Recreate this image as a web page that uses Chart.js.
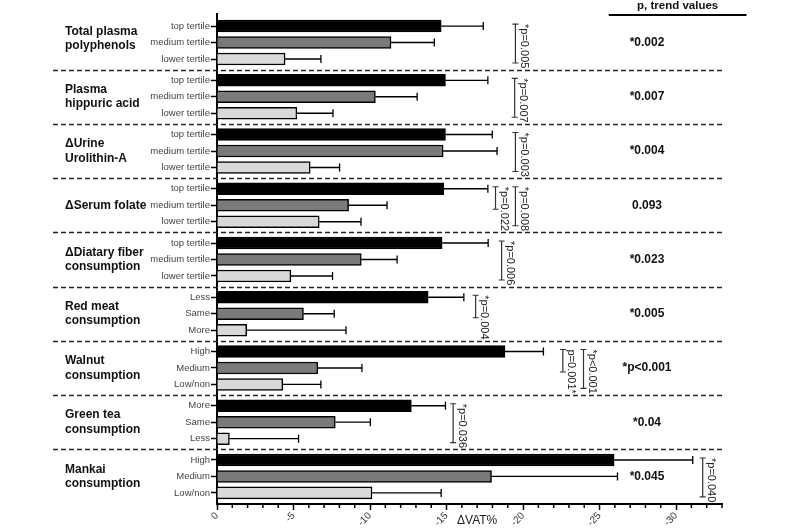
<!DOCTYPE html>
<html>
<head>
<meta charset="utf-8">
<script src="https://cdn.jsdelivr.net/npm/chart.js@4/dist/chart.umd.min.js"></script>
<style>
  html, body { margin: 0; padding: 0; background: #fff; }
  #wrap { width: 800px; height: 530px; position: relative; }
</style>
</head>
<body>
<div id="wrap"><canvas id="c"></canvas></div>
<script>
// ---------- data ----------
const groupLabels = [
  ['Total plasma', 'polyphenols'],
  ['Plasma', 'hippuric acid'],
  ['\u0394Urine', 'Urolithin-A'],
  ['\u0394Serum folate'],
  ['\u0394Diatary fiber', 'consumption'],
  ['Red meat', 'consumption'],
  ['Walnut', 'consumption'],
  ['Green tea', 'consumption'],
  ['Mankai', 'consumption']
];
const rowLabels = [
  ['top tertile', 'medium tertile', 'lower tertile'],
  ['top tertile', 'medium tertile', 'lower tertile'],
  ['top tertile', 'medium tertile', 'lower tertile'],
  ['top tertile', 'medium tertile', 'lower tertile'],
  ['top tertile', 'medium tertile', 'lower tertile'],
  ['Less', 'Same', 'More'],
  ['High', 'Medium', 'Low/non'],
  ['More', 'Same', 'Less'],
  ['High', 'Medium', 'Low/non']
];
// magnitude of VAT reduction (plotted as positive, labelled negative)
const topValues = [14.65, 14.93, 14.93, 14.82, 14.71, 13.8, 18.82, 12.7, 25.95];
const topErrors = [2.75, 2.77, 3.06, 2.88, 3.01, 2.33, 2.51, 2.23, 5.14];
const midValues = [11.37, 10.35, 14.78, 8.6, 9.43, 5.65, 6.59, 7.73, 17.94];
const midErrors = [2.83, 2.73, 3.52, 2.51, 2.34, 2.01, 2.88, 2.29, 8.23];
const lowValues = [4.45, 5.22, 6.09, 6.68, 4.83, 1.94, 4.3, 0.81, 10.13];
const lowErrors = [2.34, 2.36, 1.92, 2.73, 2.72, 6.49, 2.49, 4.52, 4.52];
const trendValues = ['*0.002', '*0.007', '*0.004', '0.093', '*0.023', '*0.005', '*p<0.001', '*0.04', '*0.045'];
const xTickValues = [0, 5, 10, 15, 20, 25, 30];
// pairwise comparisons: group, first row, last row, axis value of bracket, label
const pairTests = [
  { group: 0, from: 0, to: 2, at: 19.5, text: '*p=0.005' },
  { group: 1, from: 0, to: 2, at: 19.45, text: '*p=0.007' },
  { group: 2, from: 0, to: 2, at: 19.5, text: '*p=0.003' },
  { group: 3, from: 0, to: 1, at: 18.2, text: '*p=0.022' },
  { group: 3, from: 0, to: 2, at: 19.5, text: '*p=0.008' },
  { group: 4, from: 0, to: 2, at: 18.6, text: '*p=0.006' },
  { group: 5, from: 0, to: 1, at: 16.9, text: '*p=0.004' },
  { group: 6, from: 0, to: 1, at: 22.6, text: 'p=0.001*' },
  { group: 6, from: 0, to: 2, at: 23.95, text: '*p<0.001' },
  { group: 7, from: 0, to: 2, at: 15.43, text: '*p=0.036' },
  { group: 8, from: 0, to: 2, at: 31.74, text: '*p=0.040' }
];

// ---------- helpers ----------
const GROUP_PITCH = 3.29;
const pos = (g, r) => g * GROUP_PITCH + r;
const rowTicks = [];
const flatRowLabels = [];
groupLabels.forEach((_, g) => {
  for (let r = 0; r < 3; r++) { rowTicks.push(pos(g, r)); flatRowLabels.push(rowLabels[g][r]); }
});
const mk = (vals, r) => vals.map((v, g) => ({ x: v, y: pos(g, r) }));
const seriesErrors = [topErrors, midErrors, lowErrors];
const seriesValues = [topValues, midValues, lowValues];

Chart.defaults.font.family = "'Liberation Sans', Arial, Helvetica, sans-serif";
Chart.defaults.color = '#333';

const overlay = {
  id: 'overlay',
  afterDatasetsDraw(chart) {
    const { ctx, scales: { x, y } } = chart;
    ctx.save();
    // error bars
    ctx.strokeStyle = '#000';
    ctx.lineWidth = 1.3;
    seriesValues.forEach((vals, r) => {
      vals.forEach((v, g) => {
        const x0 = x.getPixelForValue(v), x1 = x.getPixelForValue(v + seriesErrors[r][g]);
        const yy = y.getPixelForValue(pos(g, r));
        ctx.beginPath();
        ctx.moveTo(x0, yy); ctx.lineTo(x1, yy);
        ctx.moveTo(x1, yy - 4); ctx.lineTo(x1, yy + 4);
        ctx.stroke();
      });
    });
    ctx.restore();
  },
  afterDraw(chart) {
    const { ctx, scales: { x, y }, chartArea } = chart;
    ctx.save();
    // dashed separators
    ctx.strokeStyle = '#222';
    ctx.lineWidth = 1.5;
    ctx.setLineDash([5, 3]);
    for (let g = 0; g < groupLabels.length - 1; g++) {
      const yy = Math.round((y.getPixelForValue(pos(g, 2)) + y.getPixelForValue(pos(g + 1, 0))) / 2) + 0.5;
      ctx.beginPath(); ctx.moveTo(53, yy); ctx.lineTo(chartArea.right, yy); ctx.stroke();
    }
    ctx.setLineDash([]);

    // minor x ticks
    ctx.strokeStyle = '#000';
    ctx.lineWidth = 1.5;
    for (let v = 1; v <= 33; v++) {
      if (v % 5 === 0) continue;
      const xx = x.getPixelForValue(v);
      ctx.beginPath(); ctx.moveTo(xx, chartArea.bottom); ctx.lineTo(xx, chartArea.bottom + 4); ctx.stroke();
    }

    // group labels
    ctx.fillStyle = '#111';
    ctx.font = "bold 12px 'Liberation Sans', Arial, sans-serif";
    ctx.textAlign = 'left';
    ctx.textBaseline = 'middle';
    groupLabels.forEach((lines, g) => {
      const cy = y.getPixelForValue(pos(g, 1)) - (g === 0 ? 4 : 0);
      const lh = 14.5;
      lines.forEach((t, i) => {
        ctx.fillText(t, 65, cy + (i - (lines.length - 1) / 2) * lh);
      });
    });

    // pairwise brackets
    ctx.strokeStyle = '#333';
    ctx.fillStyle = '#222';
    ctx.lineWidth = 1.2;
    ctx.font = "11px 'Liberation Sans', Arial, sans-serif";
    pairTests.forEach(p => {
      const bx = x.getPixelForValue(p.at);
      const y0 = y.getPixelForValue(pos(p.group, p.from)) - 2;
      const y1 = y.getPixelForValue(pos(p.group, p.to)) + 4;
      ctx.beginPath();
      ctx.moveTo(bx, y0); ctx.lineTo(bx, y1);
      ctx.moveTo(bx - 3, y0); ctx.lineTo(bx + 3, y0);
      ctx.moveTo(bx - 3, y1); ctx.lineTo(bx + 3, y1);
      ctx.stroke();
      ctx.save();
      ctx.translate(bx + 8.5, y0);
      ctx.rotate(Math.PI / 2);
      ctx.textAlign = 'left';
      ctx.textBaseline = 'middle';
      ctx.fillText(p.text, 0, 0);
      ctx.restore();
    });

    // trend column
    ctx.fillStyle = '#111';
    ctx.textAlign = 'center';
    ctx.textBaseline = 'middle';
    ctx.font = "bold 11.5px 'Liberation Sans', Arial, sans-serif";
    ctx.fillText('p, trend values', x.getPixelForValue(30.1), 6);
    ctx.lineWidth = 2;
    ctx.strokeStyle = '#000';
    ctx.beginPath();
    ctx.moveTo(x.getPixelForValue(25.6), 15); ctx.lineTo(x.getPixelForValue(34.6), 15);
    ctx.stroke();
    ctx.font = "bold 12px 'Liberation Sans', Arial, sans-serif";
    trendValues.forEach((t, g) => {
      ctx.fillText(t, x.getPixelForValue(28.1), y.getPixelForValue(pos(g, 1)));
    });

    // axis title
    ctx.fillStyle = '#222';
    ctx.font = "12px 'Liberation Sans', Arial, sans-serif";
    ctx.fillText('\u0394VAT%', x.getPixelForValue(17), 521);
    ctx.restore();
  }
};

new Chart(document.getElementById('c'), {
  type: 'bar',
  data: {
    datasets: [
      { label: 'top', data: mk(topValues, 0), backgroundColor: '#000000' },
      { label: 'medium', data: mk(midValues, 1), backgroundColor: '#7a7a7a' },
      { label: 'lower', data: mk(lowValues, 2), backgroundColor: '#d9d9d9' }
    ]
  },
  options: {
    indexAxis: 'y',
    responsive: true,
    maintainAspectRatio: false,
    animation: false,
    grouped: false,
    datasets: {
      bar: { barThickness: 12, borderColor: '#000', borderWidth: 1.5, borderSkipped: 'start' }
    },
    layout: { padding: { left: 0, right: 78, top: 14, bottom: 0 } },
    plugins: { legend: { display: false }, tooltip: { enabled: false } },
    scales: {
      x: {
        type: 'linear',
        min: 0, max: 33,
        offset: false,
        border: { color: '#000', width: 2 },
        grid: {
          offset: false,
          drawOnChartArea: false, drawTicks: true, tickLength: 6, tickWidth: 1.5,
          tickColor: c => (c.tick && c.tick.value % 5 === 0) ? '#000' : 'rgba(0,0,0,0)'
        },
        afterBuildTicks: s => { s.ticks = Array.from({ length: 34 }, (_, i) => ({ value: i })); },
        ticks: {
          autoSkip: false, minRotation: 45, maxRotation: 45, padding: 0,
          font: { size: 10 }, color: '#333',
          callback: v => xTickValues.includes(v) ? (v === 0 ? '0' : '-' + v) : ''
        },
        afterFit: s => { s.height = 26; }
      },
      y: {
        type: 'linear',
        reverse: true,
        offset: false,
        min: -0.73, max: 28.99,
        border: { color: '#000', width: 2 },
        grid: { offset: false, drawOnChartArea: false, drawTicks: true, tickLength: 6, tickWidth: 1.5, tickColor: '#000' },
        afterBuildTicks: s => { s.ticks = rowTicks.map(v => ({ value: v })); },
        ticks: {
          autoSkip: false, padding: 1,
          font: { size: 9.5 }, color: '#444',
          callback: (v, i) => flatRowLabels[i]
        },
        afterFit: s => { s.width = 217; }
      }
    }
  },
  plugins: [overlay]
});
</script>
</body>
</html>
